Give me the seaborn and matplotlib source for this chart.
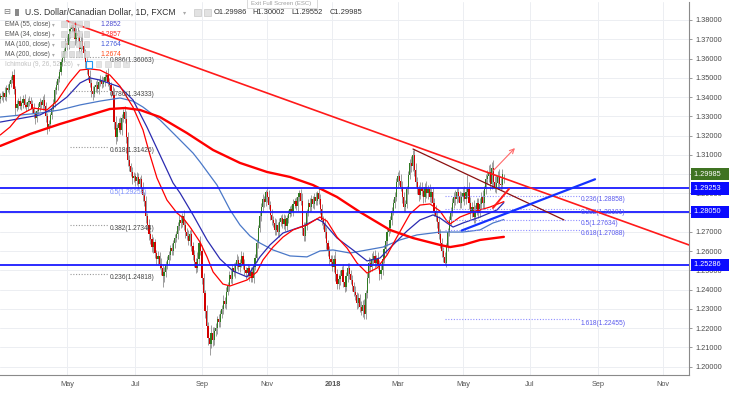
import numpy as np
import pandas as pd
import matplotlib
matplotlib.use("Agg")
import matplotlib.pyplot as plt
import matplotlib.transforms as mtransforms
from matplotlib.patches import Rectangle
import seaborn as sns

W, H = 730, 394

# ------------------------------------------------------------
# candles: daily closes (bar 0 = 2017-02-28)
# ------------------------------------------------------------
first_open = 1.3390
closes = [
    1.3405, 1.3398, 1.3420, 1.3402, 1.3445, 1.3436, 1.3470, 1.3488, 1.3512, 1.3440,
    1.3345, 1.3362, 1.3378, 1.3355, 1.3370, 1.3392, 1.3360, 1.3348, 1.3375, 1.3382,
    1.3365, 1.3340, 1.3310, 1.3290, 1.3325, 1.3350, 1.3372, 1.3360, 1.3385, 1.3352,
    1.3300, 1.3245, 1.3262, 1.3305, 1.3340, 1.3368, 1.3435, 1.3462, 1.3495, 1.3530,
    1.3580, 1.3602, 1.3640, 1.3682, 1.3668, 1.3725, 1.3752, 1.3775,
    1.3760, 1.3700, 1.3735, 1.3718, 1.3648, 1.3690, 1.3665, 1.3630, 1.3580, 1.3540,
    1.3510, 1.3475, 1.3430, 1.3418, 1.3450, 1.3462, 1.3440, 1.3478, 1.3490, 1.3470,
    1.3482, 1.3505, 1.3515, 1.3480, 1.3462, 1.3430, 1.3408,
    1.3270, 1.3195, 1.3240, 1.3265, 1.3230, 1.3290, 1.3320, 1.3285, 1.3190, 1.3075,
    1.3040, 1.3010, 1.2978, 1.2990, 1.2965, 1.2985, 1.2950, 1.2972, 1.2930, 1.2890,
    1.2860, 1.2780, 1.2735, 1.2690, 1.2665, 1.2620, 1.2645, 1.2590, 1.2560, 1.2575,
    1.2535, 1.2510, 1.2470, 1.2490, 1.2530, 1.2555,
    1.2580, 1.2615, 1.2600, 1.2640, 1.2668, 1.2690, 1.2730, 1.2760, 1.2745, 1.2780,
    1.2735, 1.2700, 1.2680, 1.2655, 1.2690, 1.2625, 1.2580, 1.2545, 1.2510, 1.2560,
    1.2640, 1.2600, 1.2460, 1.2380, 1.2290, 1.2210, 1.2150, 1.2120, 1.2175, 1.2140,
    1.2185, 1.2200, 1.2245, 1.2230, 1.2275, 1.2300, 1.2340, 1.2325, 1.2390, 1.2420,
    1.2475, 1.2455, 1.2510, 1.2490, 1.2530, 1.2555, 1.2520, 1.2540, 1.2575, 1.2530,
    1.2500, 1.2485, 1.2510, 1.2470, 1.2490, 1.2460, 1.2520, 1.2565, 1.2640, 1.2720,
    1.2780, 1.2830, 1.2870, 1.2855, 1.2905, 1.2880, 1.2840, 1.2790,
    1.2760, 1.2745, 1.2710, 1.2735, 1.2700, 1.2750, 1.2770, 1.2740, 1.2765, 1.2730,
    1.2770, 1.2795, 1.2820, 1.2805, 1.2845, 1.2860, 1.2835, 1.2880, 1.2900, 1.2860,
    1.2720, 1.2680, 1.2730, 1.2800, 1.2850, 1.2830, 1.2870, 1.2845, 1.2880, 1.2860,
    1.2900, 1.2870, 1.2820, 1.2760, 1.2740, 1.2700, 1.2640, 1.2600, 1.2560, 1.2545,
    1.2520, 1.2560, 1.2480, 1.2430, 1.2455, 1.2470, 1.2500, 1.2440, 1.2415, 1.2470,
    1.2510, 1.2480, 1.2450, 1.2420, 1.2390, 1.2370, 1.2330, 1.2355, 1.2310, 1.2290,
    1.2320, 1.2275, 1.2380, 1.2460, 1.2540, 1.2520, 1.2560, 1.2575, 1.2540, 1.2560,
    1.2530, 1.2480, 1.2500, 1.2560, 1.2610, 1.2650, 1.2700, 1.2720, 1.2760, 1.2810,
    1.2850, 1.2880,
    1.2960, 1.2990, 1.2965, 1.2935, 1.2880, 1.2830, 1.2845, 1.2920, 1.2995, 1.3060,
    1.3040, 1.3100, 1.3020, 1.2960, 1.2920, 1.2890, 1.2930, 1.2910, 1.2880, 1.2935,
    1.2900, 1.2920, 1.2880, 1.2905, 1.2850, 1.2810, 1.2780, 1.2750, 1.2690, 1.2640,
    1.2600, 1.2570, 1.2540, 1.2620, 1.2700, 1.2760,
    1.2800, 1.2850, 1.2880, 1.2870, 1.2905, 1.2885, 1.2850, 1.2880, 1.2900, 1.2870,
    1.2905, 1.2925, 1.2850, 1.2800, 1.2830, 1.2775, 1.2810, 1.2850, 1.2800, 1.2845,
    1.2880, 1.2850, 1.2920, 1.2975, 1.2990, 1.3010, 1.2950, 1.3030, 1.2960, 1.2930,
    1.2955, 1.2990, 1.2950, 1.2945, 1.2999, 1.29985,
]
# wick lengths in pips above / below each body
up_wick = [
    18, 25, 12, 30, 15, 22, 14, 20, 25, 35, 18, 22, 15, 28, 12, 20, 26, 15, 18, 24,
    16, 22, 30, 18, 14, 20, 25, 12, 18, 30, 22, 16, 20, 14, 18, 22, 15, 20, 12, 18,
    20, 25, 15, 22, 40, 18, 15, 18, 20, 35, 22, 30, 28, 25, 40, 20, 18, 25, 22, 30,
    20, 28, 15, 22, 30, 18, 25, 20, 22, 15, 24, 35, 20, 18, 25, 40, 30, 22, 25, 30,
    22, 20, 35, 45, 30, 25, 20, 28, 22, 18, 25, 20, 15, 22, 30, 18, 25, 20, 30, 22,
    25, 30, 20, 18, 25, 22, 30, 20, 25, 18, 20, 22, 15, 25, 18, 20, 15, 22, 30, 28,
    20, 35, 25, 22, 30, 20, 28, 22, 25, 20, 35, 15, 40, 30, 25, 20, 28, 22, 25, 40,
    30, 22, 25, 20, 28, 18, 22, 30, 20, 25, 18, 22, 25, 20, 28, 15, 30, 22, 20, 25,
    22, 28, 20, 25, 18, 30, 22, 15, 20, 25, 18, 22, 20, 25, 15, 12, 30, 35, 22, 28,
    20, 25, 30, 18, 22, 20, 25, 28, 22, 18, 20, 15, 22, 25, 18, 20, 15, 18, 25, 40,
    30, 22, 18, 20, 25, 22, 18, 20, 25, 12, 30, 28, 25, 22, 30, 25, 20, 28, 22, 35,
    20, 40, 28, 25, 30, 22, 35, 25, 20, 28, 30, 22, 25, 20, 30, 18, 25, 22, 30, 25,
    30, 20, 25, 30, 22, 28, 25, 30, 20, 35, 25, 30, 20, 22, 25, 18, 20, 22, 18, 20,
    25, 18, 22, 30, 35, 30, 25, 20, 18, 22, 20, 35, 25, 30, 40, 25, 22, 30, 28, 25,
    20, 30, 25, 28, 22, 30, 25, 28, 22, 30, 25, 28, 22, 25, 20, 18, 22, 30, 25, 28,
    35, 25, 30, 28, 25, 30, 40, 25, 70, 35, 30, 25, 35, 30, 25, 28, 30, 25, 35, 20,
    25, 30, 35, 40, 35, 45, 30, 40, 25, 35, 30, 25, 1,
]
dn_wick = [
    20, 15, 25, 18, 22, 12, 20, 18, 15, 22, 40, 18, 22, 15, 20, 25, 18, 22, 15, 20,
    22, 25, 18, 30, 20, 15, 22, 18, 25, 20, 28, 35, 22, 20, 18, 15, 20, 18, 25, 15,
    18, 20, 22, 15, 25, 20, 18, 15, 22, 30, 18, 25, 20, 22, 18, 25, 30, 22, 20, 25,
    28, 35, 20, 22, 18, 25, 20, 22, 18, 25, 20, 22, 25, 30, 28, 35, 40, 25, 20, 22,
    25, 20, 22, 30, 35, 25, 22, 28, 20, 25, 22, 28, 20, 25, 30, 28, 35, 25, 30, 28,
    25, 30, 28, 25, 30, 28, 35, 57, 30, 25, 22, 20, 25, 18, 22, 25, 20, 28, 22, 25,
    20, 25, 30, 22, 25, 28, 22, 25, 30, 22, 20, 25, 22, 30, 28, 35, 30, 40, 59, 25,
    35, 28, 25, 30, 22, 25, 20, 28, 22, 25, 20, 28, 22, 25, 20, 30, 22, 25, 28, 20,
    25, 22, 28, 20, 25, 30, 22, 28, 20, 22, 25, 20, 25, 22, 28, 20, 25, 22, 30, 25,
    22, 28, 25, 20, 25, 22, 20, 25, 28, 22, 25, 20, 22, 25, 20, 22, 25, 20, 22, 35,
    30, 25, 22, 20, 25, 22, 20, 25, 22, 20, 25, 28, 22, 25, 30, 28, 25, 30, 22, 25,
    30, 35, 28, 25, 30, 22, 28, 25, 22, 28, 25, 22, 28, 25, 22, 30, 25, 28, 22, 30,
    25, 28, 22, 25, 30, 22, 25, 28, 22, 25, 30, 25, 22, 20, 25, 22, 20, 25, 22, 20,
    25, 22, 28, 22, 25, 30, 28, 25, 22, 25, 20, 28, 25, 30, 28, 25, 30, 22, 25, 28,
    25, 22, 28, 25, 30, 22, 28, 25, 30, 28, 25, 30, 28, 12, 25, 20, 22, 25, 20, 25,
    28, 22, 30, 25, 28, 22, 30, 25, 28, 30, 35, 25, 30, 28, 25, 30, 22, 28, 25, 30,
    25, 28, 30, 35, 28, 30, 25, 28, 30, 25, 28, 22, 44,
]

# ------------------------------------------------------------
# moving averages (bar index, price)
# ------------------------------------------------------------
ema34_bars = [0, 6.4, 13, 21.6, 30.8, 37.4, 46, 52.6, 59.2, 65.8, 72.3, 78.9, 87.5, 94.1,
              98.7, 103.3, 109.9, 116.5, 120.5, 125.1, 131.7, 136.3, 140.3, 146.8, 151.5,
              162.7, 169.2, 173.2, 179.8, 186.4, 193, 202.2, 210.8, 215.4, 222, 228.6,
              235.2, 241.8, 248.4, 255, 261.5, 270.1, 276.7, 283.3, 289.9, 294.5, 296.5,
              303.1, 311.6, 322.9, 332]
ema34_vals = [1.3203, 1.3244, 1.3307, 1.3343, 1.3333, 1.3379, 1.3478, 1.3540, 1.3546, 1.3540,
              1.3514, 1.3457, 1.3348, 1.3229, 1.3099, 1.2980, 1.2865, 1.2798, 1.2772, 1.2725,
              1.2647, 1.2570, 1.2492, 1.2429, 1.2419, 1.2450, 1.2492, 1.2554, 1.2621, 1.2673,
              1.2710, 1.2736, 1.2777, 1.2756, 1.2673, 1.2616, 1.2538, 1.2486, 1.2512, 1.2580,
              1.2673, 1.2793, 1.2839, 1.2845, 1.2808, 1.2756, 1.2741, 1.2777, 1.2803, 1.2829,
              1.2857]

ema55_bars = [0, 26.2, 32.8, 44, 52.6, 59.2, 65.8, 78.9, 87.5, 96.7, 105.3, 113.9, 118.5,
              127.1, 136.3, 144.9, 153.4, 162.7, 171.2, 177.8, 186.4, 199.6, 208.8, 212.8,
              222, 232.5, 241.8, 250.3, 258.9, 268.1, 276.7, 285.3, 289.9, 294.5, 298.5,
              305, 316.3, 327.5, 332]
ema55_vals = [1.3270, 1.3307, 1.3333, 1.3400, 1.3473, 1.3499, 1.3488, 1.3452, 1.3385, 1.3244,
              1.3099, 1.2954, 1.2902, 1.2788, 1.2658, 1.2559, 1.2497, 1.2466, 1.2570, 1.2632,
              1.2694, 1.2730, 1.2767, 1.2751, 1.2668, 1.2606, 1.2549, 1.2564, 1.2632, 1.2704,
              1.2762, 1.2788, 1.2772, 1.2746, 1.2725, 1.2746, 1.2777, 1.2814, 1.2852]

ma100_bars = [0, 26.2, 39.4, 52.6, 65.8, 78.9, 87.5, 94.1, 105.3, 116.5, 127.1, 131.7, 142.9,
              151.5, 158, 164.6, 171.2, 179.8, 191, 202.2, 210.8, 219.4, 230.6, 241.8, 252.3,
              263.5, 274.7, 289.9, 305, 316.3, 324.8, 332]
ma100_vals = [1.3296, 1.3317, 1.3333, 1.3359, 1.3379, 1.3395, 1.3379, 1.3348, 1.3281, 1.3193,
              1.3109, 1.3063, 1.2943, 1.2814, 1.2736, 1.2679, 1.2642, 1.2606, 1.2575, 1.2570,
              1.2601, 1.2606, 1.2590, 1.2606, 1.2621, 1.2658, 1.2684, 1.2699, 1.2699, 1.2710,
              1.2746, 1.2764]

ma200_bars = [0, 19.6, 39.4, 59.2, 72.3, 82.2, 92.1, 105.3, 123.1, 140.3, 158, 175.8, 191,
              206.2, 222, 237.1, 256.9, 272.1, 289.9, 296.5, 305, 316.3, 332]
ma200_vals = [1.3146, 1.3208, 1.3260, 1.3307, 1.3338, 1.3343, 1.3333, 1.3296, 1.3213, 1.3125,
              1.3058, 1.3011, 1.2985, 1.2943, 1.2881, 1.2803, 1.2710, 1.2668, 1.2632, 1.2621,
              1.2632, 1.2658, 1.2674]

# ------------------------------------------------------------
# drawings on the chart
# ------------------------------------------------------------
h_levels = [1.29253, 1.28050, 1.25286]
last_price = 1.29985

trend_main_x, trend_main_y = [44.0, 454.05], [1.3795, 1.2632]
trend_dark_x, trend_dark_y = [272.1, 371.6], [1.3130, 1.2762]
support_x, support_y = [304.2, 392.1], [1.2707, 1.2973]
short_red_x, short_red_y = [324.8, 335.4], [1.2824, 1.2923]
arrow_from, arrow_to = (324.8, 1.3016), (339.3, 1.3135)

fib_left_levels = [1.36063, 1.34333, 1.31426, 1.27344, 1.24818]
fib_left_labels = ["0.886(1.36063)", "0.786(1.34333)", "0.618(1.31426)",
                   "0.382(1.27344)", "0.236(1.24818)"]
fib_right_levels = [1.28858, 1.28181, 1.27634, 1.27088, 1.22455]
fib_right_labels = ["0.236(1.28858)", "0.382(1.28181)", "0.5(1.27634)",
                    "0.618(1.27088)", "1.618(1.22455)"]

month_starts = ["2017-05-01", "2017-07-01", "2017-09-01", "2017-11-01", "2018-01-01",
                "2018-03-01", "2018-05-01", "2018-07-01", "2018-09-01", "2018-11-01"]
month_labels = ["May", "Jul", "Sep", "Nov", "2018", "Mar", "May", "Jul", "Sep", "Nov"]

price_ticks = [1.20, 1.21, 1.22, 1.23, 1.24, 1.25, 1.26, 1.27, 1.28, 1.29,
               1.30, 1.31, 1.32, 1.33, 1.34, 1.35, 1.36, 1.37, 1.38]
hidden_ticks = [1.28, 1.30]  # covered by the price boxes on the reference

legend_rows = ["EMA (55, close)", "EMA (34, close)", "MA (100, close)", "MA (200, close)"]
legend_vals = ["1.2852", "1.2857", "1.2764", "1.2674"]
legend_cols = ["#4b4bd0", "#ff2a2a", "#3f55d8", "#ff4a1a"]

# ------------------------------------------------------------
# plot
# ------------------------------------------------------------
sns.set_theme(style="white")
plt.rcParams["font.family"] = ["Liberation Sans", "DejaVu Sans"]

fig = plt.figure(figsize=(W / 100, H / 100), dpi=100)
fig.patch.set_facecolor("white")
ax = fig.add_axes([0, 19 / H, 689 / W, 373 / H])
ax.set_facecolor("white")

n = len(closes)
assert len(up_wick) == n and len(dn_wick) == n, (n, len(up_wick), len(dn_wick))
idx = np.arange(n)
c = np.array(closes)
o = np.r_[first_open, c[:-1]]
hi = np.maximum(o, c) + np.array(up_wick) / 1e4
lo = np.minimum(o, c) - np.array(dn_wick) / 1e4
body = np.maximum(np.abs(c - o), 0.00012)
cols = np.where(c >= o, "#2f7a22", "#d20000")

ax.vlines(idx, lo, hi, color="#8e8e8e", lw=0.6, zorder=2)
ax.bar(idx, body, bottom=np.minimum(o, c), width=0.8, color=cols, lw=0, zorder=3)

# moving averages
sns.lineplot(x=ma100_bars, y=ma100_vals, ax=ax, color="#4a78c8", lw=0.9, zorder=4)
sns.lineplot(x=ema55_bars, y=ema55_vals, ax=ax, color="#2b2bb0", lw=0.9, zorder=4)
sns.lineplot(x=ema34_bars, y=ema34_vals, ax=ax, color="#ff0000", lw=0.9, zorder=4)
sns.lineplot(x=ma200_bars, y=ma200_vals, ax=ax, color="#ff0000", lw=1.7, zorder=4)

# horizontal levels
for lev in h_levels:
    ax.axhline(lev, color="#1a1aff", lw=1.3, zorder=5)

# fib retracements
ax.hlines(fib_left_levels, 46, 71, colors="#9a9a9a", linestyles=(0, (1, 1.5)), lw=0.8, zorder=5)
for lev, lbl in zip(fib_left_levels, fib_left_labels):
    ax.annotate(lbl, xy=(72.3, lev), xytext=(0, -2.6), textcoords="offset points",
                fontsize=4.8, color="#444444", va="center", ha="left", zorder=6)
ax.annotate("0.5(1.29253)", xy=(72.3, h_levels[0]), xytext=(0, -2.6), textcoords="offset points",
            fontsize=4.8, color="#7d90ff", va="center", ha="left", zorder=6)

ax.hlines(fib_right_levels, 293.2, 382.2, colors="#8f8fff", linestyles=(0, (1, 1.5)), lw=0.8, zorder=5)
for lev, lbl in zip(fib_right_levels, fib_right_labels):
    ax.annotate(lbl, xy=(382.8, lev), xytext=(0, -2.6), textcoords="offset points",
                fontsize=4.8, color="#5a5aee", va="center", ha="left", zorder=6)

# trend lines
ax.plot(trend_main_x, trend_main_y, color="#ff1a1a", lw=1.2, zorder=6)
ax.plot(trend_dark_x, trend_dark_y, color="#8b1010", lw=0.9, zorder=6)
ax.plot(support_x, support_y, color="#1432ff", lw=1.6, zorder=6)
ax.plot(short_red_x, short_red_y, color="#ff1a1a", lw=1.4, zorder=6)
ax.annotate("", xy=arrow_to, xytext=arrow_from,
            arrowprops=dict(arrowstyle="->", color="#ff6a6a", lw=0.8,
                            mutation_scale=8, shrinkA=0, shrinkB=0), zorder=6)

# axes
dates = pd.bdate_range("2017-02-28", periods=470)
tick_pos = [int(np.argmax(dates >= pd.Timestamp(m))) for m in month_starts]
ax.set_xlim(-0.165, 454.05)
ax.set_ylim(1.195676, 1.389346)
ax.set_xticks(tick_pos)
ax.set_xticklabels(month_labels)
for lbl in ax.get_xticklabels():
    if lbl.get_text() == "2018":
        lbl.set_fontweight("bold")
ax.set_yticks(price_ticks)
ax.set_yticklabels(["" if t in hidden_ticks else f"{t:.5f}" for t in price_ticks])
ax.yaxis.tick_right()
ax.tick_params(axis="y", length=2.5, width=0.6, color="#8a8a8a", pad=2,
               labelsize=5.3, labelcolor="#4a4a4a")
ax.tick_params(axis="x", length=0, pad=4, labelsize=5.3, labelcolor="#555555")
ax.grid(True, color="#eceef2", lw=0.7)
ax.set_axisbelow(True)
for s in ["top", "left"]:
    ax.spines[s].set_visible(False)
for s in ["right", "bottom"]:
    ax.spines[s].set_color("#8a8a8a")
    ax.spines[s].set_linewidth(0.8)

# price boxes on the right scale
trans = mtransforms.blended_transform_factory(ax.transAxes, ax.transData)
box_items = [(last_price, "#3f7322")] + [(lev, "#0a0aff") for lev in h_levels]
for p, fc in box_items:
    ax.annotate(f"{p:.5f}   ", xy=(1, p), xycoords=trans, xytext=(3.6, 0),
                textcoords="offset points", va="center", ha="left", fontsize=5.3,
                color="white", annotation_clip=False, zorder=10,
                bbox=dict(boxstyle="square,pad=0.35", fc=fc, ec="none"))


# ------------------------------------------------------------
# legend header (figure pixel coordinates)
# ------------------------------------------------------------
def ftext(x, y, s, **kw):
    fig.text(x / W, 1 - y / H, s, va="center", ha="left", **kw)


def fbox(x, y, w, h, **kw):
    fig.add_artist(Rectangle((x / W, 1 - (y + h) / H), w / W, h / H,
                             transform=fig.transFigure, **kw))


ftext(3, 12, "\u229f", fontsize=6, color="#777777")
fbox(15, 8.5, 4, 7, fc="#8a8a8a", ec="none")
ftext(25, 12, "U.S. Dollar/Canadian Dollar, 1D, FXCM", fontsize=6.2, color="#333333")
ftext(183, 12.5, "\u25be", fontsize=4.5, color="#aaaaaa")
fbox(194, 8.5, 7, 7, fc="#e2e2e2", ec="#c8c8c8", lw=0.5)
fbox(204, 8.5, 7, 7, fc="#e2e2e2", ec="#c8c8c8", lw=0.5)
ftext(214, 12, "O1.29986", fontsize=5.4, color="#333333")
ftext(252.5, 12, "H1.30002", fontsize=5.4, color="#333333")
ftext(291.5, 12, "L1.29552", fontsize=5.4, color="#333333")
ftext(330, 12, "C1.29985", fontsize=5.4, color="#333333")

# tooltip left over from the screenshot
fbox(247, -3, 70, 11, fc="white", ec="#d5d5d5", lw=0.6)
ftext(251, 3.5, "Exit Full Screen (ESC)", fontsize=4.3, color="#a0a0a0")

rows_y = [24, 34, 44, 54.3]
for ry, name, val, vc in zip(rows_y, legend_rows, legend_vals, legend_cols):
    ftext(5, ry, name, fontsize=4.7, color="#555555")
    ftext(52, ry + 0.5, "\u25be", fontsize=4, color="#aaaaaa")
    for ix in [61, 68.5, 76, 83.5]:
        fbox(ix, ry - 3, 5.5, 5.5, fc="#d9d9d9", ec="#c4c4c4", lw=0.4, alpha=0.85)
    ftext(100, ry, val, fontsize=4.9, color=vc)

ftext(5, 64.5, "Ichimoku (9, 26, 52, 26)", fontsize=4.7, color="#c0c0c0")
ftext(77, 65, "\u25be", fontsize=4, color="#cccccc")
fbox(86, 61.5, 6, 6, fc="white", ec="#2196f3", lw=0.8)
for ix in [96, 105, 114, 123]:
    fbox(ix, 61.5, 5.5, 5.5, fc="#e0e0e0", ec="#cccccc", lw=0.4, alpha=0.85)

plt.savefig("out.png", dpi=100, facecolor="white")
